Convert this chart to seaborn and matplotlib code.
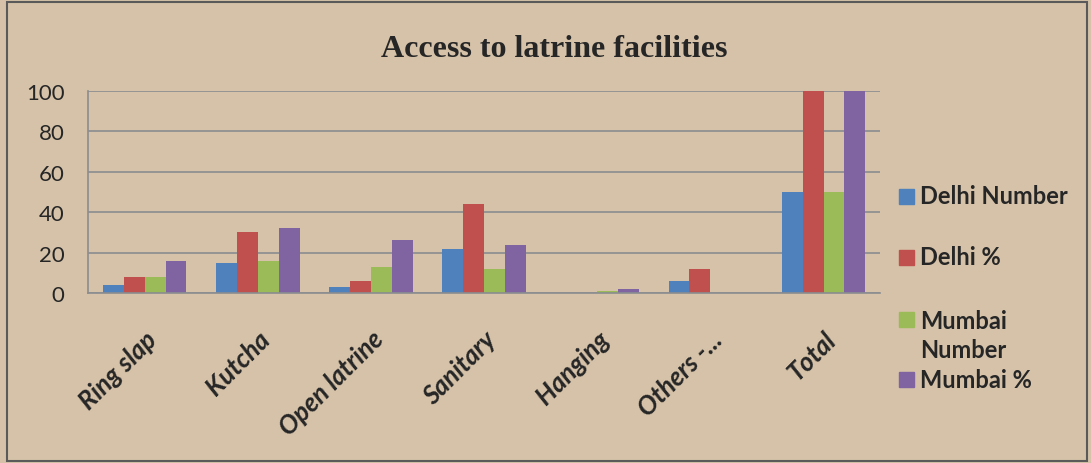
import pandas as pd
import seaborn as sns
import matplotlib.pyplot as plt
from matplotlib.patches import Rectangle

# data
categories = ["Ring slap", "Kutcha", "Open latrine", "Sanitary", "Hanging", "Others -...", "Total"]
delhi_number = [4, 15, 3, 22, 0, 6, 50]
delhi_pct = [8, 30, 6, 44, 0, 12, 100]
mumbai_number = [8, 16, 13, 12, 1, 0, 50]
mumbai_pct = [16, 32, 26, 24, 2, 0, 100]
series = ["Delhi Number", "Delhi %", "Mumbai Number", "Mumbai %"]
colors = ["#4F81BD", "#C0504D", "#9BBB59", "#8064A2"]

df = pd.DataFrame({"category": categories,
                   "Delhi Number": delhi_number,
                   "Delhi %": delhi_pct,
                   "Mumbai Number": mumbai_number,
                   "Mumbai %": mumbai_pct})
long_df = df.melt(id_vars="category", var_name="series", value_name="value")

sns.set_style("white")
plt.rcParams["font.family"] = ["Lato", "DejaVu Sans"]

bg = "#d5c2a8"
W, H = 1091, 464
fig = plt.figure(figsize=(W / 100, H / 100), dpi=100, facecolor=bg)
ax = fig.add_axes([0.0807, 0.3664, 0.726, 0.4353])
ax.set_facecolor("none")

sns.barplot(data=long_df, x="category", y="value", hue="series", hue_order=series,
            palette=colors, width=0.74, gap=0, saturation=1, linewidth=0,
            ax=ax, legend=False)

ax.set_ylim(0, 100)
ax.set_xlim(-0.5, len(categories) - 0.5)
ax.set_yticks(range(0, 101, 20))
ax.yaxis.grid(True, color="#8a8d90", linewidth=1.2)
ax.set_axisbelow(True)
ax.set_xlabel("")
ax.set_ylabel("")

for side in ["top", "right"]:
    ax.spines[side].set_visible(False)
for side in ["left", "bottom"]:
    ax.spines[side].set_color("#8a8d90")
    ax.spines[side].set_linewidth(1.2)

ax.tick_params(axis="y", length=5, color="#8a8d90", width=1.2, labelsize=16, pad=12)
ax.set_xticks([i - 0.5 for i in range(len(categories) + 1)], minor=True)
ax.tick_params(axis="x", which="minor", length=6, color="#8a8d90", width=1.2)
ax.tick_params(axis="x", which="major", length=0, pad=24)
ax.set_xticks(range(len(categories)))
ax.set_xticklabels(categories, rotation=45, ha="right", rotation_mode="anchor",
                   fontsize=18.5, fontweight="bold", fontstyle="italic")

fig.text(0.508, 0.893, "Access to latrine facilities", ha="center", va="center",
         fontsize=23, fontweight="bold", family="Liberation Serif")

# legend laid out like the Excel one (two-line entry squeezed in)
legend_labels = ["Delhi Number", "Delhi %", "Mumbai\nNumber", "Mumbai %"]
marker_y = [197, 258, 320, 380]
text_y = [197, 258, 336, 380]
for lab, col, my, ty in zip(legend_labels, colors, marker_y, text_y):
    fig.patches.append(Rectangle((899 / W, 1 - (my + 7.5) / H), 15 / W, 15 / H,
                                 transform=fig.transFigure, color=col))
    fig.text(920 / W, 1 - ty / H, lab, ha="left", va="center", fontsize=17,
             fontweight="bold", linespacing=1.36)

fig.patches.append(Rectangle((0.006, 0.004), 0.99, 0.99, transform=fig.transFigure,
                             fill=False, edgecolor="#5a5a5a", linewidth=1.5))

fig.savefig("out.png", dpi=100, facecolor=bg)
